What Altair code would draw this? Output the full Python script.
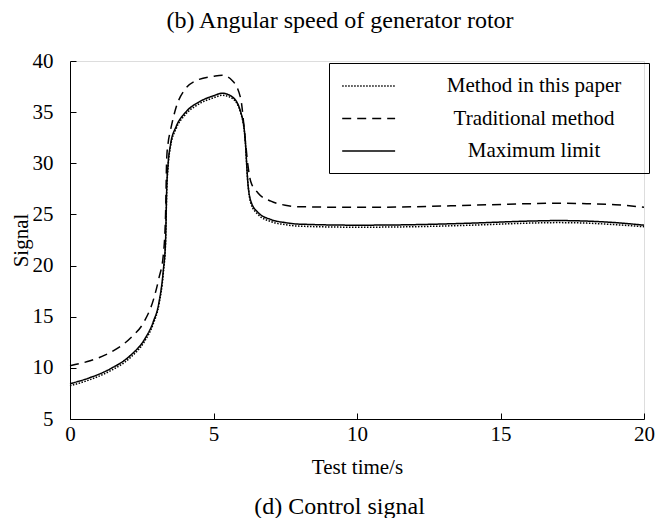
import altair as alt
import pandas as pd

# time samples (s)
t = [0, 0.7, 1.4, 2.1, 2.6, 2.9, 3.1, 3.25, 3.33, 3.37, 3.42, 3.5, 3.7, 4.0, 4.5,
     5.0, 5.3, 5.65, 5.95, 6.1, 6.2, 6.3, 6.55, 7.0, 7.5, 8, 10, 12, 14, 16, 17, 18, 19, 20]

method_paper = [8.25, 8.85, 9.7, 11.0, 12.6, 14.3, 16.2, 19.2, 22.2, 27.2, 29.8, 31.6, 33.4,
                34.7, 35.8, 36.4, 36.65, 36.35, 34.9, 32.4, 28.0, 26.1, 25.0, 24.3, 24.0,
                23.85, 23.75, 23.8, 23.95, 24.15, 24.2, 24.15, 24.0, 23.8]
traditional = [10.2, 10.7, 11.5, 12.9, 14.6, 16.6, 18.8, 21.0, 25.0, 30.5, 32.0, 33.2, 35.5,
               37.2, 38.2, 38.5, 38.6, 38.1, 36.3, 32.5, 29.8, 28.2, 27.1, 26.3, 25.9,
               25.75, 25.7, 25.75, 25.9, 26.05, 26.1, 26.05, 25.95, 25.7]
max_limit = [8.45, 9.05, 9.9, 11.2, 12.8, 14.5, 16.4, 19.5, 22.5, 27.5, 30.0, 31.8, 33.6,
             34.9, 36.0, 36.6, 36.85, 36.5, 35.0, 32.5, 28.0, 26.3, 25.2, 24.5, 24.2,
             24.05, 23.95, 24.0, 24.15, 24.35, 24.4, 24.35, 24.2, 23.95]

series_names = ["Method in this paper", "Traditional method", "Maximum limit"]
x_ticks = [0, 5, 10, 15, 20]
y_ticks = [5, 10, 15, 20, 25, 30, 35, 40]

rows = []
for name, vals in zip(series_names, [method_paper, traditional, max_limit]):
    for ti, v in zip(t, vals):
        rows.append({"time": ti, "signal": v, "series": name})
df = pd.DataFrame(rows)

FONT = "Liberation Serif"
pad = "\u2800"
PLOT_W, PLOT_H = 574, 358

common_axis = dict(grid=False, domainColor="black", tickColor="black",
                   labelFontSize=21, titleFontSize=21, titleFontWeight="normal",
                   labelFont=FONT, titleFont=FONT, labelColor="black",
                   titleColor="black", labelFlush=False, tickSize={"expr": "-6"})

x_scale = alt.Scale(domain=[0, 20], nice=False)

lines = alt.Chart(df).mark_line(interpolate="monotone", color="black").encode(
    x=alt.X("time:Q", scale=x_scale,
            axis=alt.Axis(values=x_ticks, title="Test time/s", titleY=48,
                          titleBaseline="middle", labelPadding=10, **common_axis)),
    y=alt.Y("signal:Q", scale=alt.Scale(domain=[5, 40], nice=False),
            axis=alt.Axis(values=y_ticks, title="Signal", titleX=-49, titleY=PLOT_H / 2,
                          titleAlign="center", titleBaseline="middle",
                          labelPadding=23, **common_axis)),
    strokeDash=alt.StrokeDash(
        "series:N",
        scale=alt.Scale(domain=series_names, range=[[1.5, 1.5], [9, 6], [1, 0]]),
        legend=alt.Legend(title=None, orient="none", legendX=259, legendY=2,
                          strokeColor="black", padding=12,
                          symbolType="M-1,0H4.4", symbolSize=384,
                          symbolStrokeWidth=1.5, symbolStrokeColor="black",
                          symbolFillColor="transparent",
                          labelAlign="center", labelOffset=171, labelLimit=600,
                          labelFontSize=21, labelFont=FONT, labelColor="black",
                          rowPadding=11.5,
                          labelExpr=f"'{pad}' + datum.label + '{pad}'"),
    ),
    strokeWidth=alt.value(1.5),
)

# invisible layer that carries the caption below the x axis
caption = alt.Chart(pd.DataFrame({"time": x_ticks})).mark_tick(opacity=0).encode(
    x=alt.X("time:Q", scale=x_scale,
            axis=alt.Axis(orient="bottom", labels=False, ticks=False, domain=False,
                          grid=False, title="(d) Control signal", titleFont=FONT,
                          titleFontSize=24, titleFontWeight="normal", titleColor="black",
                          titleX=269, titleY=87, titleAlign="center",
                          titleBaseline="middle")),
)

chart = alt.layer(lines, caption).resolve_axis(x="independent").properties(
    width=PLOT_W, height=PLOT_H,
    title=alt.TitleParams("(b) Angular speed of generator rotor", anchor="middle",
                          frame="group", font=FONT, fontSize=24, fontWeight="normal",
                          color="black", offset=17, dx=-17),
    autosize=alt.AutoSizeParams(type="none"),
    padding={"left": 62, "top": 53, "right": 11, "bottom": 99},
).configure_view(stroke=None).configure(background="white")

chart.save("out.html", embed_options={"renderer": "svg", "actions": False})
